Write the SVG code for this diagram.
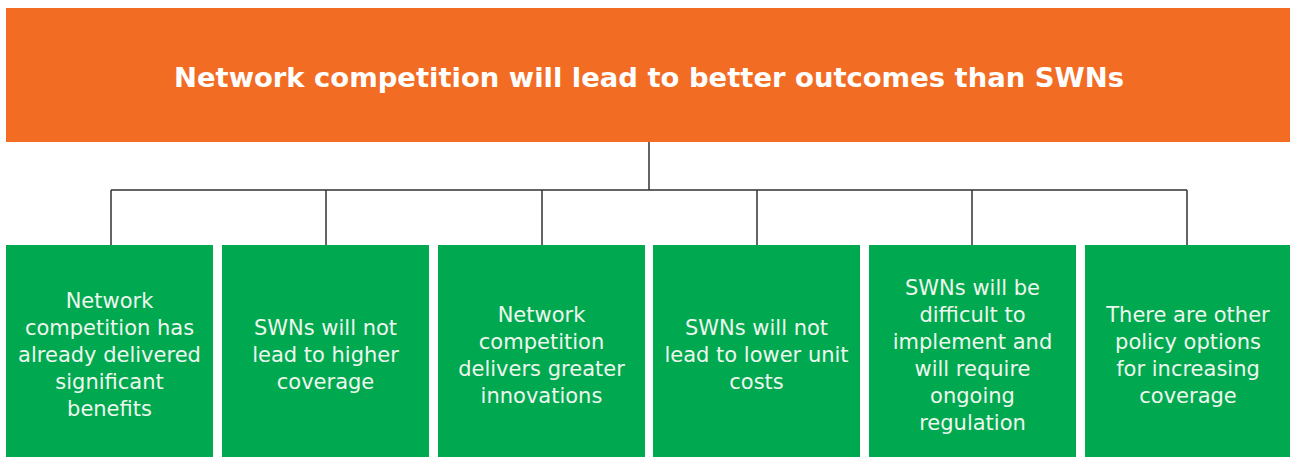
<svg xmlns="http://www.w3.org/2000/svg" width="1290" height="457" viewBox="0 0 1290 457">
<style>
.root{fill:#F36C24}
.title{font-family:"DejaVu Sans","Open Sans",sans-serif;font-weight:700;font-size:27px;fill:#FFFFFF;text-anchor:middle}
.box{fill:#00A94F}
.lbl{font-family:"DejaVu Sans","Open Sans",sans-serif;font-weight:400;font-size:21px;fill:#EEF7EE;text-anchor:middle}
.conn{stroke:#333333;stroke-width:1.5;fill:none}
</style>
<rect width="1290" height="457" fill="#FFFFFF"/>
<g id="root-node">
<rect class="root" x="6" y="8" width="1284" height="134"/>
<text class="title" x="649" y="87" textLength="950" lengthAdjust="spacingAndGlyphs">Network competition will lead to better outcomes than SWNs</text>
</g>
<g id="connectors">
<path class="conn" d="M649,142 V190 M111,190 H1187 M111,190 V245 M326,190 V245 M542,190 V245 M757,190 V245 M972,190 V245 M1187,190 V245"/>
</g>
<g id="node1">
<rect class="box" x="6" y="245" width="207" height="212"/>
<text class="lbl" x="109.5" y="308">Network</text>
<text class="lbl" x="109.5" y="335">competition has</text>
<text class="lbl" x="109.5" y="362">already delivered</text>
<text class="lbl" x="109.5" y="389">significant</text>
<text class="lbl" x="109.5" y="416">benefits</text>
</g>
<g id="node2">
<rect class="box" x="222" y="245" width="207" height="212"/>
<text class="lbl" x="325.5" y="335">SWNs will not</text>
<text class="lbl" x="325.5" y="362">lead to higher</text>
<text class="lbl" x="325.5" y="389">coverage</text>
</g>
<g id="node3">
<rect class="box" x="438" y="245" width="207" height="212"/>
<text class="lbl" x="541.5" y="321.5">Network</text>
<text class="lbl" x="541.5" y="348.5">competition</text>
<text class="lbl" x="541.5" y="375.5">delivers greater</text>
<text class="lbl" x="541.5" y="402.5">innovations</text>
</g>
<g id="node4">
<rect class="box" x="653" y="245" width="207" height="212"/>
<text class="lbl" x="756.5" y="335">SWNs will not</text>
<text class="lbl" x="756.5" y="362">lead to lower unit</text>
<text class="lbl" x="756.5" y="389">costs</text>
</g>
<g id="node5">
<rect class="box" x="869" y="245" width="207" height="212"/>
<text class="lbl" x="972.5" y="295">SWNs will be</text>
<text class="lbl" x="972.5" y="322">difficult to</text>
<text class="lbl" x="972.5" y="349">implement and</text>
<text class="lbl" x="972.5" y="376">will require</text>
<text class="lbl" x="972.5" y="403">ongoing</text>
<text class="lbl" x="972.5" y="430">regulation</text>
</g>
<g id="node6">
<rect class="box" x="1085" y="245" width="207" height="212"/>
<text class="lbl" x="1188" y="321.5">There are other</text>
<text class="lbl" x="1188" y="348.5">policy options</text>
<text class="lbl" x="1188" y="375.5">for increasing</text>
<text class="lbl" x="1188" y="402.5">coverage</text>
</g>
</svg>
